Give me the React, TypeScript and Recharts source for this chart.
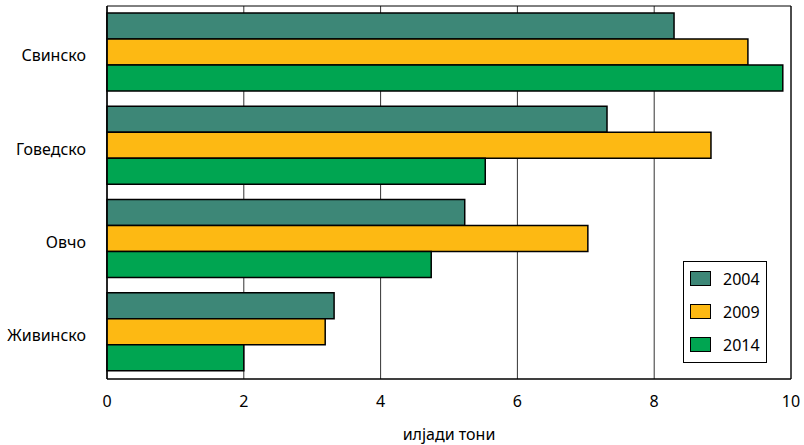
import React from 'react';
import {
  BarChart, Bar, XAxis, YAxis, CartesianGrid, ReferenceArea,
} from 'recharts';

const categories = ['Свинско', 'Говедско', 'Овчо', 'Живинско'];
const years = ['2004', '2009', '2014'];
const values2004 = [8.29, 7.31, 5.23, 3.32];
const values2009 = [9.37, 8.83, 7.03, 3.19];
const values2014 = [9.88, 5.53, 4.74, 2.0];
const xTicks = [0, 2, 4, 6, 8, 10];
const colors = ['#3d8777', '#fdb913', '#00a551'];

const FONT = '"Noto Sans", sans-serif';

const data = categories.map((name, i) => ({
  name,
  '2004': values2004[i],
  '2009': values2009[i],
  '2014': values2014[i],
}));

// legend drawn as a plain box over the plot, like the original
const LegendBox = () => (
  <div
    style={{
      position: 'absolute',
      left: 683,
      top: 261,
      width: 84,
      height: 102,
      border: '1px solid #000',
      boxSizing: 'border-box',
      background: '#fff',
      fontFamily: FONT,
      fontSize: 16,
      color: '#000',
      paddingTop: 0,
    }}
  >
    {years.map((y, i) => (
      <div key={y} style={{ display: 'flex', alignItems: 'center', height: 33 }}>
        <span
          style={{
            display: 'inline-block',
            width: 19,
            height: 13,
            marginLeft: 6,
            marginRight: 12,
            background: colors[i],
            border: '1px solid #000',
          }}
        ></span>
        <span>{y}</span>
      </div>
    ))}
  </div>
);

export default function App() {
  return (
    <div style={{ position: 'absolute', left: 0, top: 0, width: 804, height: 445, background: '#fff' }}>
      <BarChart
        width={804}
        height={445}
        data={data}
        layout="vertical"
        margin={{ top: 6, right: 13, bottom: 0, left: 0 }}
        barCategoryGap="7.5%"
        barGap={0}
      >
        <CartesianGrid horizontal={false} vertical={true} stroke="#333" strokeWidth={1} />
        <XAxis
          type="number"
          domain={[0, 10]}
          ticks={xTicks}
          height={66}
          tickSize={0}
          tickMargin={17}
          axisLine={{ stroke: '#000' }}
          tick={{ fill: '#000', fontSize: 16, fontFamily: FONT }}
          label={{ value: 'илјади тони', position: 'insideBottom', offset: 5, fill: '#000', fontSize: 16, fontFamily: FONT }}
        />
        <YAxis
          type="category"
          dataKey="name"
          width={107}
          tickSize={0}
          tickMargin={21}
          axisLine={{ stroke: '#000' }}
          tick={{ fill: '#000', fontSize: 16, fontFamily: FONT, dy: 3 }}
        />
        <ReferenceArea x1={0} x2={10} fill="none" stroke="#000" strokeWidth={1} ifOverflow="extendDomain" />
        {years.map((y, i) => (
          <Bar key={y} dataKey={y} fill={colors[i]} stroke="#000" strokeWidth={1.5} isAnimationActive={false} />
        ))}
      </BarChart>
      <LegendBox />
    </div>
  );
}
